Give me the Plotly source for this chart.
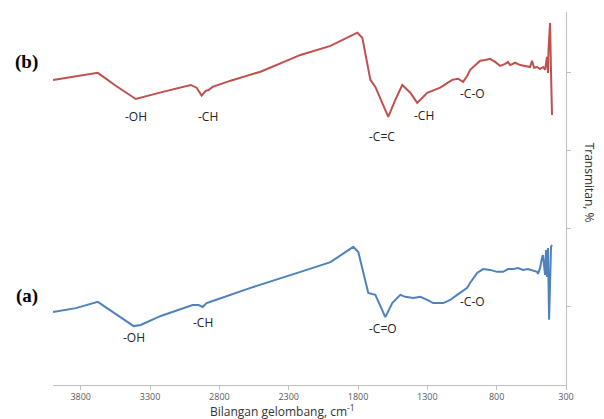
import plotly.graph_objects as go

# Wavenumber (cm-1) and transmittance (arbitrary %, offset spectra)
wn_b = [4000, 3677, 3547, 3403, 3223, 3007, 2964, 2928, 2899, 2878, 2849, 2719, 2503,
        2215, 1999, 1805, 1769, 1711, 1675, 1625, 1582, 1531, 1481, 1423, 1373, 1301,
        1207, 1121, 1078, 1042, 1013, 991, 919, 883, 847, 811, 775, 739, 718, 703, 667,
        631, 595, 559, 545, 530, 509, 487, 466, 451, 437, 430, 426, 422, 415, 408, 401]
t_b = [78.2, 80.0, 76.7, 73.3, 75.0, 76.9, 76.2, 74.2, 75.4, 75.6, 76.4, 78.0, 80.3,
       84.6, 86.9, 90.3, 89.0, 78.2, 76.4, 72.3, 68.7, 73.1, 76.9, 74.9, 72.3, 74.9,
       76.2, 78.2, 78.5, 77.7, 79.2, 80.8, 83.1, 83.3, 83.6, 82.8, 81.8, 82.3, 82.8, 82.0, 82.6,
       82.0, 81.8, 81.5, 83.1, 81.3, 81.5, 81.0, 81.5, 80.8, 84.1, 80.0, 85.9, 88.5, 92.8,
       80.0, 69.2]

wn_a = [4000, 3835, 3677, 3547, 3418, 3367, 3223, 2993, 2950, 2921, 2892, 2827, 2575,
        2215, 1999, 1834, 1798, 1726, 1675, 1603, 1553, 1495, 1459, 1402, 1351, 1301,
        1258, 1186, 1135, 1085, 1013, 991, 941, 898, 847, 797, 754, 718, 682, 646, 610,
        574, 538, 509, 502, 487, 473, 466, 451, 444, 437, 430, 422, 408, 401]
t_a = [18.7, 19.7, 21.3, 18.2, 15.1, 15.4, 17.7, 20.5, 20.5, 20.0, 21.0, 21.8, 24.9,
       29.0, 31.5, 35.4, 34.1, 23.6, 23.1, 17.4, 21.0, 23.1, 22.6, 22.3, 22.6, 21.8,
       21.0, 21.0, 21.8, 23.1, 24.9, 26.2, 28.7, 29.7, 29.5, 29.0, 29.0, 29.7, 29.7, 30.0, 29.5,
       29.7, 29.2, 29.0, 28.5, 30.0, 32.6, 33.3, 28.2, 34.6, 27.7, 35.1, 16.7, 35.4, 35.9]

# Peak labels: (text, wavenumber, transmittance)
labels_b = [("-OH", 3403, 68.7), ("-CH", 2885, 68.7), ("-C=C", 1625, 63.6),
            ("-CH", 1322, 69.0), ("-C-O", 977, 74.6)]
labels_a = [("-OH", 3418, 12.1), ("-CH", 2921, 15.9), ("-C=O", 1618, 14.4),
            ("-C-O", 977, 21.3)]

x_ticks = [3800, 3300, 2800, 2300, 1800, 1300, 800, 300]

fig = go.Figure()
fig.add_trace(go.Scatter(x=wn_b, y=t_b, mode="lines",
                         line=dict(color="#c0504d", width=2), showlegend=False))
fig.add_trace(go.Scatter(x=wn_a, y=t_a, mode="lines",
                         line=dict(color="#4f81bd", width=2), showlegend=False))

ann = []
for txt, x, y in labels_b + labels_a:
    ann.append(dict(text=txt, x=x, y=y, xref="x", yref="y", showarrow=False,
                    xanchor="center", yanchor="middle",
                    font=dict(family="Open Sans", size=12, color="#222222")))
ann.append(dict(text="<b>(b)</b>", x=-0.051, y=0.866, xref="paper", yref="paper",
                xanchor="center", yanchor="middle", showarrow=False,
                font=dict(family="Liberation Serif", size=19, color="black")))
ann.append(dict(text="<b>(a)</b>", x=-0.051, y=0.239, xref="paper", yref="paper",
                xanchor="center", yanchor="middle", showarrow=False,
                font=dict(family="Liberation Serif", size=19, color="black")))
ann.append(dict(text="Transmitan, %", x=1.0455, y=0.5416, xref="paper", yref="paper",
                xanchor="center", yanchor="middle", textangle=90, showarrow=False,
                font=dict(family="Open Sans", size=12, color="#333333")))
ann.append(dict(text="Bilangan gelombang, cm<sup>-1</sup>", x=0.448, y=-0.0697,
                xref="paper", yref="paper", xanchor="center", yanchor="middle",
                showarrow=False,
                font=dict(family="Open Sans", size=12, color="#333333")))

# page body has an 8px margin, so the figure is sized/offset to compensate
fig.update_layout(
    width=596, height=411,
    margin=dict(l=45, r=38, t=4, b=34),
    plot_bgcolor="white", paper_bgcolor="white",
    annotations=ann,
    xaxis=dict(range=[4000, 300], tickvals=x_ticks, ticktext=[str(v) for v in x_ticks],
               showgrid=False, zeroline=False, showline=True, linecolor="#bfbfbf",
               linewidth=1, ticks="outside", ticklen=4, tickcolor="#bfbfbf",
               ticklabelstandoff=-1,
               tickfont=dict(family="Open Sans", size=9, color="#595959")),
    yaxis=dict(range=[0, 95.6], side="right", tickvals=[20, 40, 60, 80],
               showticklabels=False, showgrid=False, zeroline=False, showline=True,
               linecolor="#bfbfbf", linewidth=1, ticks="outside", ticklen=4,
               tickcolor="#bfbfbf"),
)

fig.write_html("out.html")
